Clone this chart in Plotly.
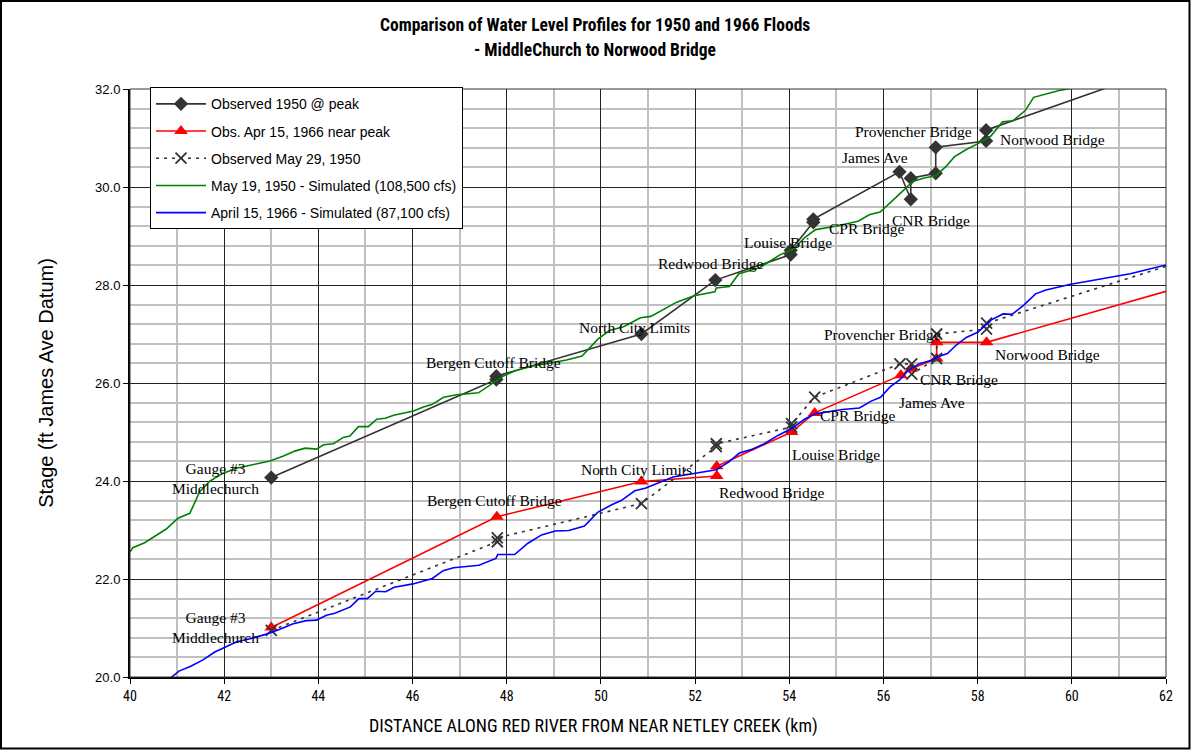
import plotly.graph_objects as go

# ---------------- data ----------------
# Observed 1950 @ peak (diamonds)
obs50_x = [43.0, 47.78, 47.78, 50.86, 52.43, 54.03, 54.03, 54.51, 54.51, 56.34, 56.58, 56.58, 57.11, 57.11, 58.18, 58.18, 62.0]
obs50_y = [24.07, 26.07, 26.14, 27.0, 28.1, 28.62, 28.71, 29.28, 29.34, 30.31, 29.75, 30.18, 30.28, 30.81, 30.94, 31.16, 32.45]

# Obs. Apr 15, 1966 near peak (triangles)
obs66_x = [43.0, 47.79, 50.86, 52.46, 52.46, 54.05, 54.54, 56.37, 56.59, 57.13, 57.13, 58.19, 62.0]
obs66_y = [21.01, 23.27, 23.99, 24.1, 24.3, 25.0, 25.39, 26.16, 26.29, 26.5, 26.83, 26.83, 27.87]

# Observed May 29, 1950 (x markers, dotted)
may29_x = [43.0, 47.8, 47.8, 50.86, 52.45, 52.45, 54.05, 54.05, 54.54, 56.35, 56.6, 56.6, 57.13, 57.13, 58.19, 58.19, 62.0]
may29_y = [20.95, 22.76, 22.84, 23.54, 24.7, 24.76, 25.1, 25.17, 25.71, 26.39, 26.39, 26.18, 26.5, 27.0, 27.1, 27.22, 28.38]

# May 19, 1950 - Simulated (108,500 cfs)
sim50_x = [40.0, 40.06, 40.31, 40.52, 40.77, 41.02, 41.27, 41.48, 41.7, 41.98, 42.26, 42.65, 42.97, 43.26, 43.5,
           43.72, 43.96, 44.11, 44.32, 44.53, 44.67, 44.85, 45.06, 45.24, 45.42, 45.6, 45.81, 46.02, 46.23, 46.41,
           46.66, 46.94, 47.4, 47.72, 47.94, 48.18, 48.57, 49.27, 49.6, 49.93, 50.18, 50.48, 50.84, 51.06, 51.32,
           51.61, 51.98, 52.42, 52.45, 52.73, 52.93, 53.37, 53.81, 54.1, 54.32, 54.56, 54.98, 55.46, 55.71, 55.93,
           56.3, 56.63, 56.89, 57.11, 57.33, 57.51, 57.77, 58.06, 58.28, 58.53, 58.75, 59.01, 59.19, 59.73, 60.5]
sim50_y = [22.55, 22.64, 22.74, 22.86, 23.02, 23.24, 23.34, 23.78, 24.0, 24.16, 24.26, 24.34, 24.41, 24.51, 24.61,
           24.67, 24.65, 24.74, 24.76, 24.89, 24.92, 25.11, 25.11, 25.26, 25.28, 25.34, 25.39, 25.43, 25.51, 25.56,
           25.71, 25.76, 25.8, 26.0, 26.15, 26.25, 26.35, 26.47, 26.55, 26.89, 27.07, 27.15, 27.33, 27.36, 27.49,
           27.65, 27.78, 27.86, 27.94, 27.97, 28.23, 28.35, 28.62, 28.74, 28.96, 29.13, 29.2, 29.3, 29.44, 29.49,
           29.82, 30.12, 30.19, 30.23, 30.42, 30.62, 30.77, 30.91, 31.04, 31.33, 31.35, 31.56, 31.83, 31.97, 32.1]

# April 15, 1966 - Simulated (87,100 cfs)
sim66_x = [40.76, 41.04, 41.29, 41.55, 41.8, 42.01, 42.27, 42.55, 42.88, 43.17, 43.45, 43.74, 43.96, 44.17, 44.35,
           44.68, 44.86, 45.04, 45.22, 45.43, 45.61, 46.01, 46.42, 46.65, 46.87, 47.41, 47.77, 47.81, 48.17, 48.45,
           48.74, 49.03, 49.32, 49.65, 49.93, 50.22, 50.43, 50.72, 50.94, 51.53, 52.0, 52.45, 52.72, 52.94, 53.19,
           53.47, 53.76, 54.05, 54.34, 54.55, 55.13, 55.49, 55.74, 55.94, 56.14, 56.35, 56.53, 56.75, 57.0, 57.14,
           57.36, 57.54, 57.76, 58.01, 58.29, 58.54, 58.73, 58.98, 59.23, 59.45, 59.95, 60.53, 61.24, 62.0]
sim66_y = [19.9, 20.12, 20.22, 20.35, 20.51, 20.61, 20.72, 20.78, 20.87, 20.97, 21.08, 21.15, 21.16, 21.26, 21.3,
           21.43, 21.6, 21.6, 21.75, 21.74, 21.83, 21.9, 22.01, 22.17, 22.23, 22.28, 22.42, 22.5, 22.5, 22.73,
           22.9, 22.98, 22.99, 23.08, 23.36, 23.51, 23.6, 23.8, 23.85, 24.08, 24.16, 24.23, 24.39, 24.57, 24.64,
           24.76, 24.93, 25.07, 25.27, 25.37, 25.46, 25.49, 25.63, 25.71, 25.92, 26.07, 26.26, 26.39, 26.46, 26.53,
           26.6, 26.77, 26.93, 27.04, 27.29, 27.41, 27.4, 27.59, 27.82, 27.9, 28.01, 28.11, 28.23, 28.41]

# Station labels: (text, x, y)
labels_1950 = [
    ("Gauge #3<br>Middlechurch", 41.82, 24.06),
    ("Bergen Cutoff Bridge", 47.72, 26.41),
    ("North City Limits", 50.71, 27.14),
    ("Redwood Bridge", 52.34, 28.43),
    ("Louise Bridge", 53.98, 28.86),
    ("CPR Bridge", 55.63, 29.15),
    ("CNR Bridge", 57.01, 29.32),
    ("James Ave", 55.83, 30.6),
    ("Provencher Bridge", 56.64, 31.13),
    ("Norwood Bridge", 59.58, 30.96),
]
labels_1966 = [
    ("Gauge #3<br>Middlechurch", 41.81, 21.02),
    ("Bergen Cutoff Bridge", 47.73, 23.6),
    ("North City Limits", 50.75, 24.23),
    ("Redwood Bridge", 53.63, 23.76),
    ("Louise Bridge", 54.99, 24.54),
    ("CPR Bridge", 55.45, 25.33),
    ("James Ave", 57.04, 25.6),
    ("CNR Bridge", 57.61, 26.07),
    ("Provencher Bridge", 55.99, 26.99),
    ("Norwood Bridge", 59.48, 26.58),
]

title_line1 = "Comparison of Water Level Profiles for 1950 and 1966 Floods"
title_line2 = "- MiddleChurch to Norwood Bridge"
x_title = "DISTANCE ALONG RED RIVER FROM NEAR NETLEY CREEK (km)"
y_title = "Stage (ft James Ave Datum)"

# ---------------- figure ----------------
NARROW = "Liberation Sans Narrow, Arial Narrow, Roboto Condensed, sans-serif"
SANS = "Liberation Sans, Arial, sans-serif"
SERIF = "Liberation Serif, Times New Roman, serif"
DARK = "#333333"

W, H = 1191, 750
ML, MR, MT, MB = 130, 25, 89, 73
pw, ph = W - ML - MR, H - MT - MB

def px_x(p):  # page pixel -> paper x
    return (p - ML) / pw

def px_y(p):  # page pixel -> paper y
    return 1 - (p - MT) / ph

fig = go.Figure()

def shown(n):
    # every point but the last (which only carries the line to the axis edge)
    return list(range(n - 1))

fig.add_trace(go.Scatter(
    x=obs50_x, y=obs50_y, mode="lines+markers", name="Observed 1950 @ peak",
    line=dict(color=DARK, width=1.6),
    marker=dict(symbol="diamond", size=11, color=DARK),
    selectedpoints=shown(len(obs50_x)), unselected=dict(marker=dict(opacity=0)),
    legendgroup="a"))
fig.add_trace(go.Scatter(
    x=obs66_x, y=obs66_y, mode="lines+markers", name="Obs. Apr 15, 1966 near peak",
    line=dict(color="#ff0000", width=1.6),
    marker=dict(symbol="triangle-up", size=12, color="#ff0000"),
    selectedpoints=shown(len(obs66_x)), unselected=dict(marker=dict(opacity=0)),
    legendgroup="b"))
fig.add_trace(go.Scatter(
    x=may29_x, y=may29_y, mode="lines+markers", name="Observed May 29, 1950",
    line=dict(color=DARK, width=1.6, dash="3px,5px"),
    marker=dict(symbol="x-thin", size=11, color=DARK, line=dict(color=DARK, width=1.8)),
    selectedpoints=shown(len(may29_x)), unselected=dict(marker=dict(opacity=0)),
    legendgroup="c"))
fig.add_trace(go.Scatter(
    x=sim50_x, y=sim50_y, mode="lines", name="May 19, 1950 - Simulated (108,500 cfs)",
    line=dict(color="#008000", width=1.6), legendgroup="d"))
fig.add_trace(go.Scatter(
    x=sim66_x, y=sim66_y, mode="lines", name="April 15, 1966 - Simulated (87,100 cfs)",
    line=dict(color="#0000ff", width=1.6), legendgroup="e"))

for txt, lx, ly in labels_1950 + labels_1966:
    fig.add_annotation(x=lx, y=ly, text=txt, showarrow=False,
                       font=dict(family=SERIF, size=15.5, color="black"))

# title (two lines, centred on the page)
fig.add_annotation(xref="paper", yref="paper", x=px_x(595), y=px_y(25), text="<b>" + title_line1 + "</b>",
                   showarrow=False, xanchor="center", yanchor="middle",
                   font=dict(family=NARROW, size=17.5, color="black"))
fig.add_annotation(xref="paper", yref="paper", x=px_x(595), y=px_y(50), text="<b>" + title_line2 + "</b>",
                   showarrow=False, xanchor="center", yanchor="middle",
                   font=dict(family=NARROW, size=17.5, color="black"))

# x-axis title (centred on the page, as in the original)
fig.add_annotation(xref="paper", yref="paper", x=px_x(593), y=px_y(726),
                   text=x_title, showarrow=False, xanchor="center", yanchor="middle",
                   font=dict(family=NARROW, size=18, color="black"))

# figure frame
fig.add_shape(type="rect", xref="paper", yref="paper",
              x0=px_x(1), x1=px_x(W - 1.5), y0=px_y(H - 1.5), y1=px_y(1),
              line=dict(color="black", width=2), layer="below")
# plot-area border
fig.add_shape(type="rect", xref="paper", yref="paper", x0=0, x1=1, y0=0, y1=1,
              line=dict(color=DARK, width=1), layer="above")

fig.update_layout(
    width=W, height=H,
    margin=dict(l=ML, r=MR, t=MT, b=MB),
    paper_bgcolor="white", plot_bgcolor="white",
    showlegend=True,
    legend=dict(x=px_x(150), y=1.003, xanchor="left", yanchor="top",
                bgcolor="white", bordercolor="black", borderwidth=1,
                font=dict(family=SANS, size=14, color="black"),
                traceorder="grouped", tracegroupgap=6,
                itemwidth=50),
    xaxis=dict(range=[40, 62], dtick=2, tick0=40, showgrid=True, gridcolor="#222222", gridwidth=1,
               minor=dict(dtick=1, showgrid=True, gridcolor="#c0c0c0", gridwidth=2),
               showline=True, linecolor="black", linewidth=2,
               ticks="outside", ticklen=5, tickcolor="black", zeroline=False,
               tickfont=dict(family=NARROW, size=14, color="black")),
    yaxis=dict(range=[20, 32], dtick=2, tick0=20, showgrid=True, gridcolor="#222222", gridwidth=1,
               minor=dict(dtick=0.4, showgrid=True, gridcolor="#c0c0c0", gridwidth=2),
               showline=True, linecolor="black", linewidth=2, tickformat=".1f",
               ticks="outside", ticklen=5, tickcolor="black", zeroline=False,
               tickfont=dict(family=SANS, size=13, color="black"),
               title=dict(text=y_title, standoff=36,
                          font=dict(family=SANS, size=20, color="black"))),
)

fig.write_html("out.html", config={"displayModeBar": False},
               post_script="document.body.style.margin='0px';document.body.style.overflow='hidden';")
